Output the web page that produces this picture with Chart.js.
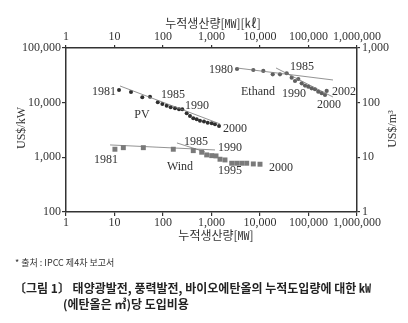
<!DOCTYPE html>
<html>
<head>
<meta charset="utf-8">
<script src="https://cdn.jsdelivr.net/npm/chart.js@4/dist/chart.umd.min.js"></script>
<style>
  html, body { margin: 0; background: #fff; }
</style>
</head>
<body>
<canvas id="costChart" width="408" height="323"></canvas>
<script>
// tick values for the log axes
const prodTicks = [1, 10, 100, 1000, 10000, 100000, 1000000];
const kwTicks = [100, 1000, 10000, 100000];
const m3Ticks = [1, 10, 100, 1000];

// PV: cumulative MW vs US$/kW
const pvProd = [12.4, 21.9, 37.4, 54, 78, 97, 119, 144, 177, 214, 250, 308, 360, 421, 495, 579, 700, 835, 1010, 1180, 1430];
const pvCost = [17060, 15700, 12560, 12880, 10160, 9460, 8810, 8240, 7900, 7570, 7570, 6400, 5710, 5190, 4970, 4690, 4500, 4310, 4200, 4030, 3750];

// Wind: cumulative MW vs US$/kW
const windProd = [10.2, 15.2, 39.3, 163, 421, 628, 796, 1010, 1239, 1497, 1897, 2610, 3310, 4200, 5320, 7280, 10000];
const windCost = [1406, 1503, 1503, 1406, 1326, 1240, 1107, 1074, 1061, 923, 896, 780, 780, 780, 780, 757, 748];

// Ethanol: cumulative production vs US$/m3 (right axis)
const ethProd = [3360, 7280, 11700, 18300, 25800, 35500, 45000, 52700, 61600, 72400, 84700, 99000, 116000, 136000, 159000, 187000, 219000, 237000];
const ethCost = [413, 396, 380, 330, 330, 345, 286, 249, 271, 226, 205, 196, 183, 176, 159, 149, 138, 164];

// fitted learning-curve lines (start / end)
const pvTrendProd = [13, 1500];
const pvTrendCost = [20200, 4080];
const windTrendProd = [8.1, 1180];
const windTrendCost = [1686, 1365];
const windTrend2Prod = [194, 735];
const windTrend2Cost = [1832, 1256];
const ethTrendProd = [3300, 320000];
const ethTrendCost = [431, 260];
const ethTrend2Prod = [21400, 320000];
const ethTrend2Cost = [431, 127];

// year / series notes: [text, production, cost, axis]
const notes = [
  ['1981', 6.1, 15700, 'y'], ['1985', 161, 13800, 'y'], ['1990', 502, 8700, 'y'],
  ['2000', 3050, 3300, 'y'], ['PV', 36.9, 5960, 'y'],
  ['1980', 1570, 396, 'y2'], ['1985', 73500, 450, 'y2'], ['Ethand', 9100, 157, 'y2'],
  ['1990', 50200, 144, 'y2'], ['2002', 540000, 157, 'y2'], ['2000', 265000, 90.8, 'y2'],
  ['1981', 6.7, 896, 'y'], ['Wind', 224, 668, 'y'], ['1985', 479, 1914, 'y'],
  ['1990', 2405, 1486, 'y'], ['1995', 2405, 564, 'y'], ['2000', 27100, 640, 'y']
];

const zip = (xs, ys) => xs.map((x, i) => ({ x: x, y: ys[i] }));
const fmt = v => Number(v).toLocaleString('en-US');

const serif = 'Liberation Serif';
const sans = 'Noto Sans CJK KR';
const ink = '#333';

function trend(xs, ys, axis) {
  return {
    type: 'line', data: zip(xs, ys), yAxisID: axis,
    borderColor: '#777', borderWidth: 0.8, pointRadius: 0, fill: false
  };
}

const textPlugin = {
  id: 'textPlugin',
  afterDraw(chart) {
    const ctx = chart.ctx;
    const sx = chart.scales.x;
    ctx.save();
    ctx.fillStyle = ink;
    ctx.textBaseline = 'middle';
    ctx.textAlign = 'center';
    ctx.font = '12px "' + serif + '"';
    notes.forEach(n => {
      ctx.fillText(n[0], sx.getPixelForValue(n[1]), chart.scales[n[3]].getPixelForValue(n[2]));
    });

    // axis titles
    ctx.font = '12px "' + sans + '"';
    ctx.fillText('누적생산량[㎿][㎘]', 213, 23);
    ctx.fillText('누적생산량[㎿]', 216, 235);

    ctx.font = '12px "' + serif + '"';
    ctx.save();
    ctx.translate(22, 128);
    ctx.rotate(-Math.PI / 2);
    ctx.fillText('US$/kW', 0, 0);
    ctx.restore();
    ctx.save();
    ctx.translate(393, 129);
    ctx.rotate(-Math.PI / 2);
    ctx.fillText('US$/m³', 0, 0);
    ctx.restore();

    // source and caption
    ctx.textAlign = 'left';
    ctx.font = '9px "' + sans + '"';
    ctx.fillText('* 출처 : IPCC 제4차 보고서', 15, 263);
    ctx.fillStyle = '#222';
    ctx.font = 'bold 12px "' + sans + '"';
    ctx.fillText('〔그림 1〕 태양광발전, 풍력발전, 바이오에탄올의 누적도입량에 대한 ㎾', 14, 288);
    ctx.fillText('(에탄올은 ㎥)당 도입비용', 63, 304);
    ctx.restore();
  }
};

function logAxis(pos, min, max, tickVals, size, tickLen, pad) {
  return {
    type: 'logarithmic', position: pos, min: min, max: max,
    afterBuildTicks: s => { s.ticks = tickVals.map(v => ({ value: v })); },
    afterFit: s => {
      if (pos === 'left' || pos === 'right') s.width = size; else s.height = size;
    },
    ticks: {
      callback: v => fmt(v), autoSkip: false, maxRotation: 0,
      color: ink, padding: pad, font: { family: serif, size: 12 }
    },
    grid: { drawOnChartArea: false, tickLength: tickLen, color: ink, lineWidth: 1.2 },
    border: { color: ink, width: 1.5 }
  };
}

const ctx = document.getElementById('costChart').getContext('2d');
new Chart(ctx, {
  type: 'scatter',
  data: {
    datasets: [
      trend(pvTrendProd, pvTrendCost, 'y'),
      trend(windTrendProd, windTrendCost, 'y'),
      trend(windTrend2Prod, windTrend2Cost, 'y'),
      trend(ethTrendProd, ethTrendCost, 'y2'),
      trend(ethTrend2Prod, ethTrend2Cost, 'y2'),
      {
        label: 'PV', data: zip(pvProd, pvCost), yAxisID: 'y',
        pointStyle: 'circle', pointRadius: 2, backgroundColor: '#2f2f2f', borderWidth: 0
      },
      {
        label: 'Wind', data: zip(windProd, windCost), yAxisID: 'y',
        pointStyle: 'rect', pointRadius: 3.5, backgroundColor: '#7a7a7a', borderWidth: 0
      },
      {
        label: 'Ethand', data: zip(ethProd, ethCost), yAxisID: 'y2',
        pointStyle: 'circle', pointRadius: 2.1, backgroundColor: '#606060', borderWidth: 0
      }
    ]
  },
  options: {
    responsive: false,
    animation: false,
    layout: { padding: 0 },
    plugins: { legend: { display: false }, tooltip: { enabled: false } },
    scales: {
      x: logAxis('bottom', 1, 1000000, prodTicks, 323 - 212, 4, 0),
      x2: logAxis('top', 1, 1000000, prodTicks, 48, 3, 1),
      y: logAxis('left', 100, 100000, kwTicks, 66, 4, 1),
      y2: logAxis('right', 1, 1000, m3Ticks, 408 - 357, 3, 2)
    }
  },
  plugins: [textPlugin]
});
</script>
</body>
</html>
